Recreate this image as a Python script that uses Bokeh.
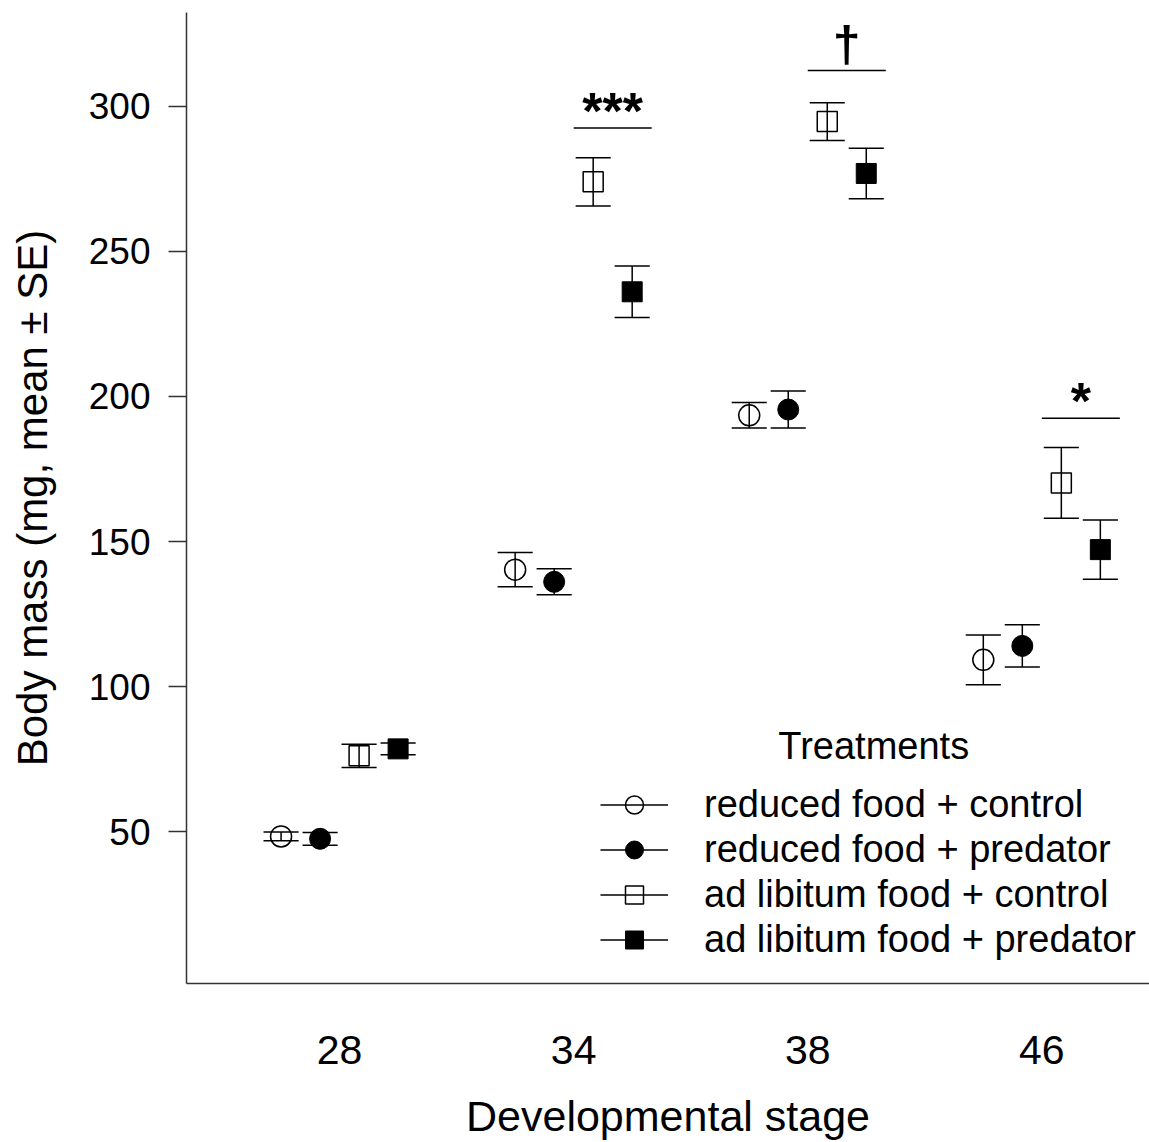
import numpy as np
from bokeh.plotting import figure
from bokeh.models import (ColumnDataSource, FixedTicker, Range1d, Legend,
                          LegendItem, Label)
from bokeh.core.properties import value
from bokeh.embed import file_html
from bokeh.resources import INLINE

# ---------------- data ----------------
stages = ["28", "34", "38", "46"]
series_names = ["reduced food + control", "reduced food + predator",
                "ad libitum food + control", "ad libitum food + predator"]

rfc_mean = [48.3, 140.3, 193.5, 109.2]
rfc_se = [1.5, 5.9, 4.4, 8.6]
rfp_mean = [47.5, 136.1, 195.5, 114.0]
rfp_se = [2.2, 4.5, 6.4, 7.3]
alc_mean = [76.1, 274.0, 294.8, 170.2]
alc_se = [4.0, 8.3, 6.5, 12.2]
alp_mean = [78.5, 236.1, 276.9, 147.2]
alp_se = [2.0, 8.9, 8.7, 10.2]

sig_stages = ["34", "38", "46"]
sig_labels = ["***", "\u2020", "*"]
sig_y = [292.6, 312.4, 192.5]

y_ticks = [50, 100, 150, 200, 250, 300]

# ---------------- style ----------------
FONT = "Liberation Sans"
AX = "#333333"

p = figure(width=1149, height=1142, output_backend="svg", toolbar_location=None,
           x_range=Range1d(0.346, 4.46), y_range=Range1d(-2.4, 332.4),
           min_border_left=186, min_border_right=0, min_border_top=12,
           min_border_bottom=159)
p.outline_line_color = None
p.grid.visible = False
p.background_fill_color = "white"
p.border_fill_color = "white"

pos = np.arange(1, len(stages) + 1, dtype=float)
stage_pos = dict(zip(stages, pos))
offsets = [-0.25, -1 / 12, 1 / 12, 0.25]
markers = ["circle", "circle", "square", "square"]
fills = [None, "black", None, "black"]
sizes = [21, 21, 20, 20]
leg_sizes = [15, 15, 14, 14]
cap_half = 0.075

means = [rfc_mean, rfp_mean, alc_mean, alp_mean]
ses = [rfc_se, rfp_se, alc_se, alp_se]

legend_items = []
for i in range(4):
    m = np.array(means[i])
    s = np.array(ses[i])
    x = pos + offsets[i]
    src = ColumnDataSource(dict(x=x, y=m, lo=m - s, hi=m + s,
                                cl=x - cap_half, cr=x + cap_half))
    p.segment(x0="x", y0="lo", x1="x", y1="hi", source=src,
              line_color="black", line_width=1.5)
    p.segment(x0="cl", y0="hi", x1="cr", y1="hi", source=src,
              line_color="black", line_width=1.5)
    p.segment(x0="cl", y0="lo", x1="cr", y1="lo", source=src,
              line_color="black", line_width=1.5)
    if fills[i] is None:
        p.scatter(x="x", y="y", source=src, marker=markers[i], size=sizes[i],
                  fill_color=None, line_color="black", line_width=1.5)
    else:
        p.scatter(x="x", y="y", source=src, marker=markers[i], size=sizes[i],
                  fill_color="black", line_color="black", line_width=1.0)
    # legend-only renderers (no visible data)
    nan_src = ColumnDataSource(dict(x=[np.nan], y=[np.nan]))
    lr = p.line(x="x", y="y", source=nan_src, line_color="black", line_width=1.5)
    if fills[i] is None:
        sr = p.scatter(x="x", y="y", source=nan_src, marker=markers[i],
                       size=leg_sizes[i], fill_color=None,
                       line_color="black", line_width=1.5)
    else:
        sr = p.scatter(x="x", y="y", source=nan_src, marker=markers[i],
                       size=leg_sizes[i], fill_color="black",
                       line_color="black", line_width=1.0)
    legend_items.append(LegendItem(label=series_names[i], renderers=[lr, sr]))

# significance annotations
sx = np.array([stage_pos[s] for s in sig_stages])
sig_src = ColumnDataSource(dict(x0=sx, x1=sx + 1 / 3, xm=sx + 1 / 6,
                                y=sig_y, t=sig_labels,
                                fs=["52px", "50px", "52px"],
                                yo=[-17, -27, -17]))
p.segment(x0="x0", y0="y", x1="x1", y1="y", source=sig_src,
          line_color="black", line_width=1.5)
p.text(x="xm", y="y", text="t", source=sig_src, text_font=value(FONT),
       text_font_size="fs", text_font_style="bold", text_align="center",
       text_baseline="alphabetic", y_offset="yo", text_color="black")

legend = Legend(items=legend_items, location=(414, 21),
                glyph_width=68, glyph_height=45, label_height=45,
                label_standoff=36, spacing=0, padding=0, margin=0,
                border_line_color=None, background_fill_alpha=0,
                label_text_font=FONT, label_text_font_size="38px",
                label_text_color="black")
p.add_layout(legend, "center")

p.add_layout(Label(x=3.282, y=79.6, text="Treatments", text_align="center",
                   text_baseline="middle", text_font=FONT,
                   text_font_size="38px", text_color="black"))

# axes
p.yaxis.ticker = FixedTicker(ticks=y_ticks)
p.yaxis.major_tick_out = 18
p.yaxis.major_tick_in = 0
p.yaxis.minor_tick_out = 0
p.yaxis.minor_tick_in = 0
p.yaxis.major_label_standoff = 18
p.yaxis.major_label_text_font = FONT
p.yaxis.major_label_text_font_size = "37px"
p.yaxis.major_label_text_color = "black"
p.yaxis.axis_label = "Body mass (mg, mean \u00b1 SE)"
p.yaxis.axis_label_text_font = FONT
p.yaxis.axis_label_text_font_size = "42px"
p.yaxis.axis_label_text_font_style = "normal"
p.yaxis.axis_label_text_color = "black"
p.yaxis.axis_label_standoff = 30

p.xaxis.ticker = FixedTicker(ticks=list(pos))
p.xaxis.major_label_overrides = {int(k): s for k, s in zip(pos, stages)}
p.xaxis.major_tick_out = 0
p.xaxis.major_tick_in = 0
p.xaxis.minor_tick_out = 0
p.xaxis.minor_tick_in = 0
p.xaxis.major_label_standoff = 52
p.xaxis.major_label_text_font = FONT
p.xaxis.major_label_text_font_size = "41px"
p.xaxis.major_label_text_color = "black"
p.xaxis.axis_label = "Developmental stage"
p.xaxis.axis_label_text_font = FONT
p.xaxis.axis_label_text_font_size = "43px"
p.xaxis.axis_label_text_font_style = "normal"
p.xaxis.axis_label_text_color = "black"
p.xaxis.axis_label_standoff = 25

for ax in (p.xaxis, p.yaxis):
    ax.axis_line_color = AX
    ax.axis_line_width = 1.5
    ax.major_tick_line_color = AX
    ax.major_tick_line_width = 1.5

open("out.html", "w").write(file_html(p, INLINE))
